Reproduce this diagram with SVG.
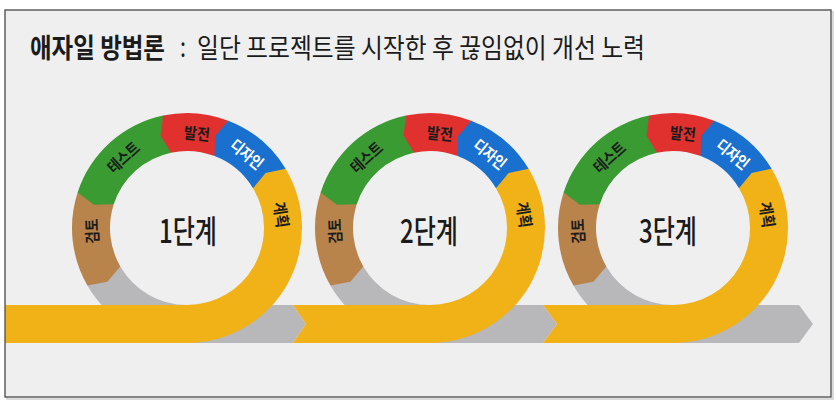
<svg xmlns="http://www.w3.org/2000/svg" width="836" height="401" viewBox="0 0 836 401">
<style>
.tt{font-family:"Noto Sans CJK KR","Noto Sans",sans-serif;fill:#1b1b1b;font-size:22px}
.seg{font-family:"Noto Sans CJK KR","Noto Sans",sans-serif;font-size:16px;font-weight:700;text-anchor:middle;dominant-baseline:central;fill:#1b1b1b}
.wh{fill:#ffffff}
.stage{font-family:"Noto Sans CJK KR","Noto Sans",sans-serif;font-size:32px;font-weight:500;text-anchor:middle;dominant-baseline:central;fill:#1b1b1b}
.y{fill:#f0b216}.g{fill:#b8b8ba}.br{fill:#b8844c}.gr{fill:#3a9b33}.r{fill:#e1312f}.b{fill:#1a70cf}
</style>
<defs>
<path id="aGray" d="M-99.59,57.5 A115,115 0 0 0 0,115 L0,77 A77,77 0 0 1 -66.68,38.5 Z"/>
<path id="aBrown" d="M-109.38,-35.54 A115,115 0 0 0 -99.59,57.5 L-79.58,53.68 L-66.68,38.5 A77,77 0 0 1 -73.23,-23.79 Z"/>
<path id="aGreen" d="M-23.91,-112.48 A115,115 0 0 0 -109.38,-35.54 L-93.15,-23.22 L-73.23,-23.79 A77,77 0 0 1 -16.01,-75.31 Z"/>
<path id="aRed" d="M41.22,-107.36 A115,115 0 0 0 -23.91,-112.48 L-26.46,-92.28 L-16.01,-75.31 A77,77 0 0 1 27.6,-71.89 Z"/>
<path id="aBlue" d="M98.58,-59.23 A115,115 0 0 0 41.22,-107.36 L28.07,-91.8 L27.6,-71.89 A77,77 0 0 1 66,-39.66 Z"/>
<path id="aYellow" d="M0,115 A115,115 0 0 0 98.58,-59.23 L78.64,-55.07 L66,-39.66 A77,77 0 0 1 0,77 Z"/>
</defs>
<rect x="0" y="0" width="836" height="401" fill="#ffffff"/>
<rect x="7" y="12" width="826" height="387" fill="none" stroke="#cfcfcf" stroke-width="1.5"/>
<rect x="5" y="10" width="826" height="387" fill="#efefef"/>
<g id="title" transform="translate(0 58) scale(1 1.22)">
<text class="tt" x="30" y="0" font-weight="700" textLength="135" lengthAdjust="spacingAndGlyphs">애자일 방법론</text>
<text class="tt" x="180" y="-1" textLength="6" lengthAdjust="spacingAndGlyphs">:</text>
<text class="tt" x="197" y="0" textLength="448" lengthAdjust="spacingAndGlyphs">일단 프로젝트를 시작한 후 끊임없이 개선 노력</text>
</g>
<g id="connectors">
<path class="g" d="M186,305 H293 L306,324 L293,343 H186 Z"/>
<path class="g" d="M429,305 H543 L557,324 L543,343 H429 Z"/>
<path class="g" d="M672,305 H799 L813,324 L799,343 H672 Z"/>
</g>
<g id="stage1">
<g transform="translate(187,228)">
<use href="#aGray" class="g"/><use href="#aBrown" class="br"/><use href="#aGreen" class="gr"/><use href="#aRed" class="r"/><use href="#aBlue" class="b"/>
</g>
<path class="y" d="M5,305 H188 V343 H5 Z"/>
<g transform="translate(187,228)">
<use href="#aYellow" class="y"/>
<text class="seg" transform="rotate(-8) translate(96 0) rotate(90)" textLength="26" lengthAdjust="spacingAndGlyphs">계획</text>
<text class="seg wh" transform="rotate(-51) translate(96 0) rotate(90)" textLength="37" lengthAdjust="spacingAndGlyphs">디자인</text>
<text class="seg" transform="rotate(-84) translate(96 0) rotate(90)" textLength="26" lengthAdjust="spacingAndGlyphs">발전</text>
<text class="seg" transform="rotate(-132) translate(96 0) rotate(90)" textLength="37" lengthAdjust="spacingAndGlyphs">테스트</text>
<text class="seg" transform="rotate(-182) translate(96 0) rotate(90)" textLength="25" lengthAdjust="spacingAndGlyphs">검토</text>
<text class="stage" x="1" y="1" textLength="58" lengthAdjust="spacingAndGlyphs">1단계</text>
</g>
</g>
<g id="stage2">
<g transform="translate(430,228)">
<use href="#aGray" class="g"/><use href="#aBrown" class="br"/><use href="#aGreen" class="gr"/><use href="#aRed" class="r"/><use href="#aBlue" class="b"/>
</g>
<path class="y" d="M293,305 H431 V343 H293 L306,324 Z"/>
<g transform="translate(430,228)">
<use href="#aYellow" class="y"/>
<text class="seg" transform="rotate(-8) translate(96 0) rotate(90)" textLength="26" lengthAdjust="spacingAndGlyphs">계획</text>
<text class="seg wh" transform="rotate(-51) translate(96 0) rotate(90)" textLength="37" lengthAdjust="spacingAndGlyphs">디자인</text>
<text class="seg" transform="rotate(-84) translate(96 0) rotate(90)" textLength="26" lengthAdjust="spacingAndGlyphs">발전</text>
<text class="seg" transform="rotate(-132) translate(96 0) rotate(90)" textLength="37" lengthAdjust="spacingAndGlyphs">테스트</text>
<text class="seg" transform="rotate(-182) translate(96 0) rotate(90)" textLength="25" lengthAdjust="spacingAndGlyphs">검토</text>
<text class="stage" x="-1" y="1" textLength="58" lengthAdjust="spacingAndGlyphs">2단계</text>
</g>
</g>
<g id="stage3">
<g transform="translate(673,228)">
<use href="#aGray" class="g"/><use href="#aBrown" class="br"/><use href="#aGreen" class="gr"/><use href="#aRed" class="r"/><use href="#aBlue" class="b"/>
</g>
<path class="y" d="M543,305 H674 V343 H543 L557,324 Z"/>
<g transform="translate(673,228)">
<use href="#aYellow" class="y"/>
<text class="seg" transform="rotate(-8) translate(96 0) rotate(90)" textLength="26" lengthAdjust="spacingAndGlyphs">계획</text>
<text class="seg wh" transform="rotate(-51) translate(96 0) rotate(90)" textLength="37" lengthAdjust="spacingAndGlyphs">디자인</text>
<text class="seg" transform="rotate(-84) translate(96 0) rotate(90)" textLength="26" lengthAdjust="spacingAndGlyphs">발전</text>
<text class="seg" transform="rotate(-132) translate(96 0) rotate(90)" textLength="37" lengthAdjust="spacingAndGlyphs">테스트</text>
<text class="seg" transform="rotate(-182) translate(96 0) rotate(90)" textLength="25" lengthAdjust="spacingAndGlyphs">검토</text>
<text class="stage" x="-5" y="1" textLength="58" lengthAdjust="spacingAndGlyphs">3단계</text>
</g>
</g>
<rect x="5" y="10" width="826" height="387" fill="none" stroke="#5f5f5f" stroke-width="1.5"/>
</svg>
